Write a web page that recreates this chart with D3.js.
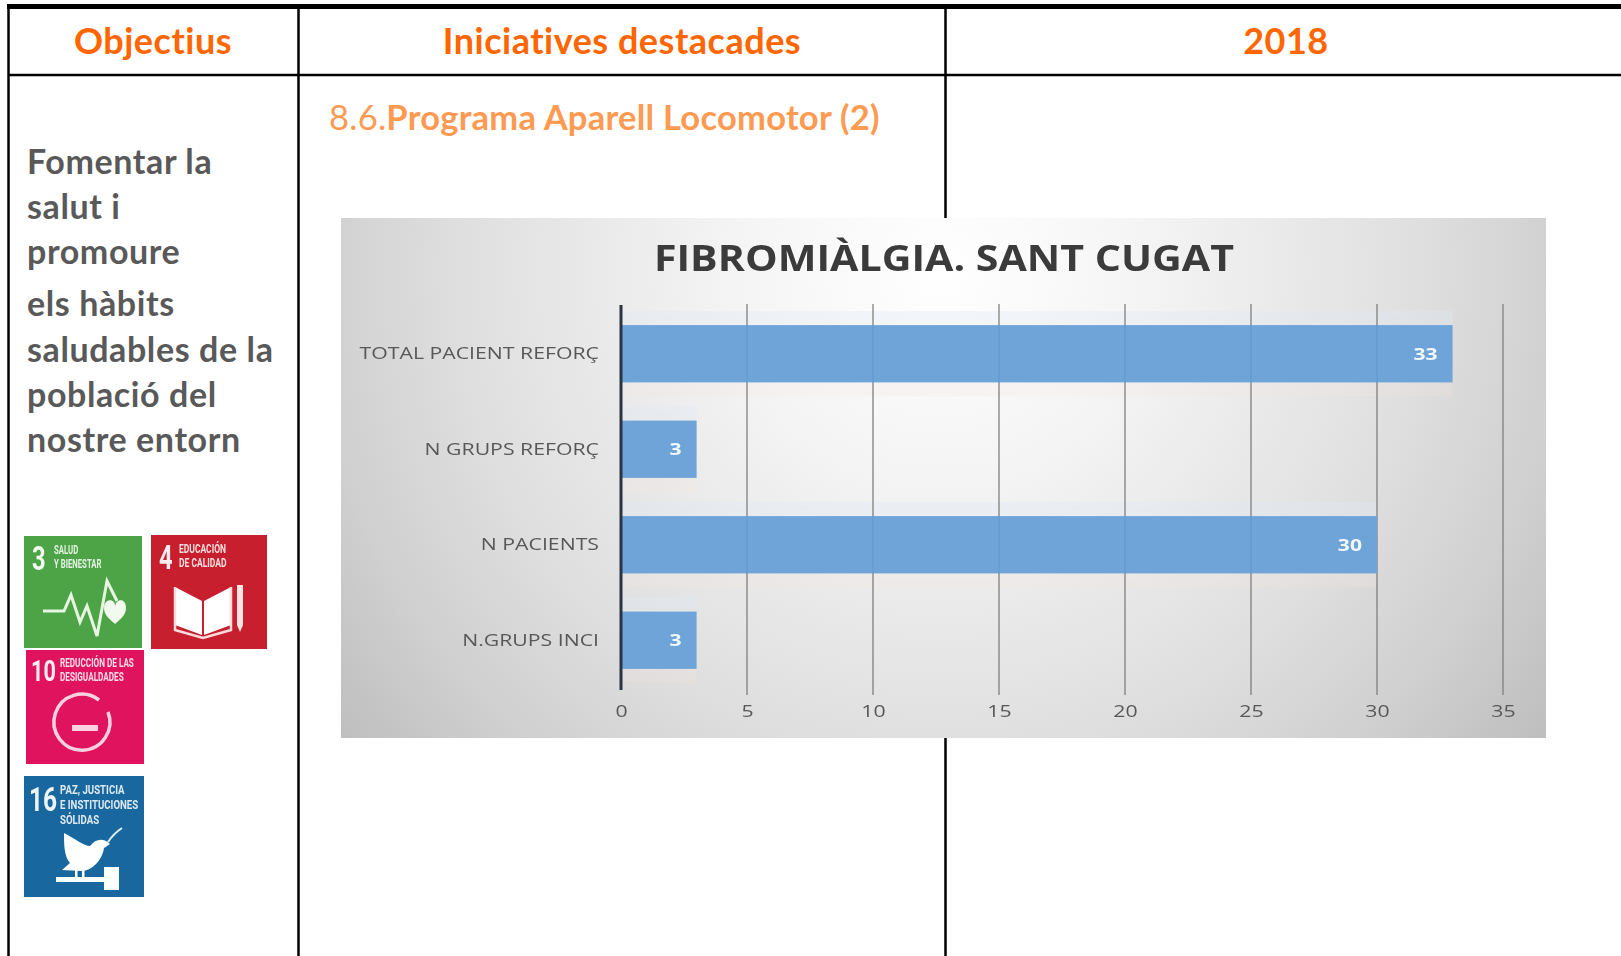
<!DOCTYPE html>
<html><head><meta charset="utf-8">
<script src="https://cdnjs.cloudflare.com/ajax/libs/d3/7.8.5/d3.min.js"></script>
<style>html,body{margin:0;padding:0;background:#fff;overflow:hidden}svg{display:block;font-variant-ligatures:none}</style>
</head><body>
<script>
const categories = ["TOTAL PACIENT REFORÇ","N GRUPS REFORÇ","N PACIENTS","N.GRUPS INCI"];
const values = [33,3,30,3];
const tickValues = [0,5,10,15,20,25,30,35];
const chartTitle = "FIBROMIÀLGIA. SANT CUGAT";
const headers = ["Objectius","Iniciatives destacades","2018"];
const objectiveLines = ["Fomentar la","salut i","promoure","els hàbits","saludables de la","població del","nostre entorn"];

const W=1621,H=956;
const svg=d3.select("body").append("svg").attr("width",W).attr("height",H).attr("font-family","Lato,sans-serif");
const stretch=(sel,f)=>sel.each(function(){
  d3.select(this).attr("textLength",this.getComputedTextLength()*f).attr("lengthAdjust","spacingAndGlyphs");
});
const defs=svg.append("defs");
const grad=defs.append("radialGradient").attr("id","panel").attr("gradientUnits","userSpaceOnUse")
  .attr("cx",940).attr("cy",270).attr("r",780);
[[0,"#ffffff"],[.25,"#f5f5f5"],[.6,"#e0e0e0"],[.8,"#d0d0d0"],[1,"#bcbcbc"]].forEach(([o,c])=>
  grad.append("stop").attr("offset",o).attr("stop-color",c));
defs.append("filter").attr("id","soft").append("feGaussianBlur").attr("stdDeviation",0.5);
const glow=defs.append("linearGradient").attr("id","halo").attr("x1",0).attr("x2",0).attr("y1",0).attr("y2",1);
glow.append("stop").attr("offset",0).attr("stop-color","#dfe8f5").attr("stop-opacity",.9);
glow.append("stop").attr("offset",1).attr("stop-color","#f3e6df").attr("stop-opacity",.6);

// table frame
const line=(x1,y1,x2,y2,w)=>svg.append("line").attr("x1",x1).attr("y1",y1).attr("x2",x2).attr("y2",y2).attr("stroke","#000").attr("stroke-width",w);
line(7,6.5,W,6.5,5);
line(8,75,W,75,2.5);
line(8.5,4,8.5,H,2.5);
line(298.5,8,298.5,H,2.5);
line(945.5,8,945.5,H,2.5);

// headers
[[153,headers[0]],[622,headers[1]],[1286,headers[2]]].forEach(([x,t])=>
  svg.append("text").attr("x",x).attr("y",54).attr("text-anchor","middle")
    .attr("font-size",36).attr("font-weight",700).attr("letter-spacing",.5).attr("fill","#ff6600").text(t));

const sub=svg.append("text").attr("x",329).attr("y",130).attr("font-size",34.5).attr("letter-spacing",.25).attr("fill","#ff9a52");
sub.append("tspan").text("8.6.");
sub.append("tspan").attr("font-weight",700).text("Programa Aparell Locomotor (2)");

const lineY=[174,219,264,316,362,407,452];
objectiveLines.forEach((t,i)=>svg.append("text").attr("x",27).attr("y",lineY[i])
  .attr("font-size",34).attr("font-weight",700).attr("letter-spacing",.6).attr("fill","#595959").text(t));

// SDG icons
function icon(x,y,w,h,col,num,numSize,numX,lab,labSize,labX,labStep,labF,draw){
  const g=svg.append("g").attr("transform",`translate(${x},${y})`);
  g.append("rect").attr("width",w).attr("height",h).attr("fill",col);
  const t=svg.append("g").attr("transform",`translate(${x},${y})`).attr("filter","url(#soft)");
  t.append("text").attr("x",numX).attr("y",numSize+1).attr("font-family","Roboto,sans-serif")
    .attr("font-size",numSize).attr("font-weight",700).attr("fill","#fff").attr("fill-opacity",.92).text(num).call(stretch,.72);
  lab.forEach((s,i)=>t.append("text").attr("x",labX).attr("y",labSize+5+i*labStep).attr("font-family","Roboto,sans-serif")
    .attr("font-size",labSize).attr("font-weight",700).attr("fill","#fff").attr("fill-opacity",.85).text(s).call(stretch,labF));
  draw(t);
}
const white=g=>g.attr("fill","#fff");
icon(24,536,118,112,"#4ca446","3",33,8,["SALUD","Y BIENESTAR"],12.5,30,14,.62,g=>{
  g.append("path").attr("d","M19 75H40L47 59L56 86L63 70L73 100L83 45L93 65")
    .attr("fill","none").attr("stroke","#e8f5e2").attr("stroke-width",3);
  g.append("path").attr("d","M80 72C80 62 92 62 91 71C92 62 102 62 102 72C102 80 95 84 91 88C87 84 80 80 80 72Z").attr("fill","#f2faf0");
});
icon(151,535,116,114,"#c71f2d","4",33,8,["EDUCACIÓN","DE CALIDAD"],12.5,28,14,.68,g=>{
  g.append("path").attr("d","M24 52L51 66V100L24 90ZM80 52L53 66V100L80 90Z").call(white);
  g.append("path").attr("d","M24 52V95L52 103L80 95V52").attr("fill","none").attr("stroke","#fbdcdc").attr("stroke-width",2.5);
  g.append("path").attr("d","M86 50H92V90L89 97L86 90Z").attr("fill","#fbe4e4");
});
icon(26,650,118,114,"#e0135f","10",30,5,["REDUCCIÓN DE LAS","DESIGUALDADES"],12,34,14,.68,g=>{
  g.append("path").attr("d","M73 50A28 28 0 1 0 82 62").attr("fill","none").attr("stroke","#fbd0e0").attr("stroke-width",3.5);
  g.append("rect").attr("x",46).attr("y",75).attr("width",26).attr("height",6).attr("fill","#fbd0e0");
});
icon(24,776,120,121,"#18689f","16",34,5,["PAZ, JUSTICIA","E INSTITUCIONES","SÓLIDAS"],13,36,15,.74,g=>{
  g.append("path").attr("d","M40 57C50 62 60 70 66 70C72 62 80 62 86 68L80 72C78 86 66 95 58 95L38 94L46 87C40 80 40 68 40 57Z").call(white);
  g.append("path").attr("d","M84 66C88 60 92 56 98 52").attr("stroke","#e8f2f8").attr("fill","none").attr("stroke-width",2);
  g.append("rect").attr("x",32).attr("y",101).attr("width",55).attr("height",5).call(white);
  g.append("rect").attr("x",80).attr("y",91).attr("width",15).attr("height",23).call(white);
  g.append("rect").attr("x",58).attr("y",94).attr("width",2.5).attr("height",8).call(white);
  g.append("rect").attr("x",51).attr("y",94).attr("width",2.5).attr("height",8).call(white);
});

// chart panel
const px=341,py=218,pw=1205,ph=520;
svg.append("rect").attr("x",px).attr("y",py).attr("width",pw).attr("height",ph).attr("fill","url(#panel)");
const chart=svg.append("g").attr("filter","url(#soft)");

const x=d3.scaleLinear().domain([0,35]).range([621,1503]);
const y=d3.scaleBand().domain(categories).range([306,688]).paddingInner(.4).paddingOuter(.2);

// halos behind bars
chart.append("g").selectAll("rect").data(categories).join("rect")
  .attr("x",x(0)).attr("width",(d,i)=>x(values[i])-x(0))
  .attr("y",d=>y(d)-14).attr("height",y.bandwidth()+28).attr("fill","url(#halo)").attr("opacity",.4);

// gridlines
chart.append("g").selectAll("line").data(tickValues.slice(1)).join("line")
  .attr("x1",d=>x(d)).attr("x2",d=>x(d)).attr("y1",304).attr("y2",695)
  .attr("stroke","#7f7f7f").attr("stroke-width",1.3);

// bars
chart.append("g").selectAll("rect").data(categories).join("rect")
  .attr("x",x(0)).attr("y",d=>y(d)).attr("height",y.bandwidth())
  .attr("width",(d,i)=>x(values[i])-x(0)).attr("fill","#6ea4d8");
chart.append("g").selectAll("line").data(tickValues.slice(1).filter(t=>t<33)).join("line")
  .attr("x1",d=>x(d)).attr("x2",d=>x(d)).attr("y1",y(categories[0])).attr("y2",y(categories[0])+y.bandwidth())
  .attr("stroke","#5f97cf").attr("stroke-width",1);
chart.append("g").selectAll("line").data(tickValues.slice(1).filter(t=>t<30)).join("line")
  .attr("x1",d=>x(d)).attr("x2",d=>x(d)).attr("y1",y(categories[2])).attr("y2",y(categories[2])+y.bandwidth())
  .attr("stroke","#5f97cf").attr("stroke-width",1);

// value labels
chart.append("g").selectAll("text").data(categories).join("text")
  .attr("x",(d,i)=>x(values[i])-15).attr("y",d=>y(d)+y.bandwidth()/2+6)
  .attr("text-anchor","end").attr("font-family","'Open Sans',sans-serif").attr("font-size",16.5).attr("font-weight",700)
  .attr("fill","#f2f8ff").text((d,i)=>values[i]).call(stretch,1.28);

// axes
const yAxis=d3.axisLeft(y).tickSize(0).tickPadding(22);
const gy=chart.append("g").attr("transform",`translate(${x(0)},0)`).call(yAxis);
gy.select(".domain").attr("stroke","#2b3440").attr("stroke-width",3).attr("d","M0,305V690");
gy.selectAll("text").attr("font-family","'Open Sans',sans-serif").attr("font-size",17).attr("fill","#595959").call(stretch,1.25);

const xAxis=d3.axisBottom(x).tickValues(tickValues).tickSize(0).tickPadding(0);
const gx=chart.append("g").attr("transform","translate(0,705)").call(xAxis);
gx.select(".domain").remove();
gx.selectAll("text").attr("font-family","'Open Sans',sans-serif").attr("font-size",17).attr("fill","#595959").call(stretch,1.25);

chart.append("text").attr("x",944).attr("y",271).attr("text-anchor","middle")
  .attr("font-family","'Open Sans',sans-serif").attr("font-size",35).attr("font-weight",700).attr("fill","#3a3a3a").text(chartTitle).call(stretch,1.175);
</script>
</body></html>
